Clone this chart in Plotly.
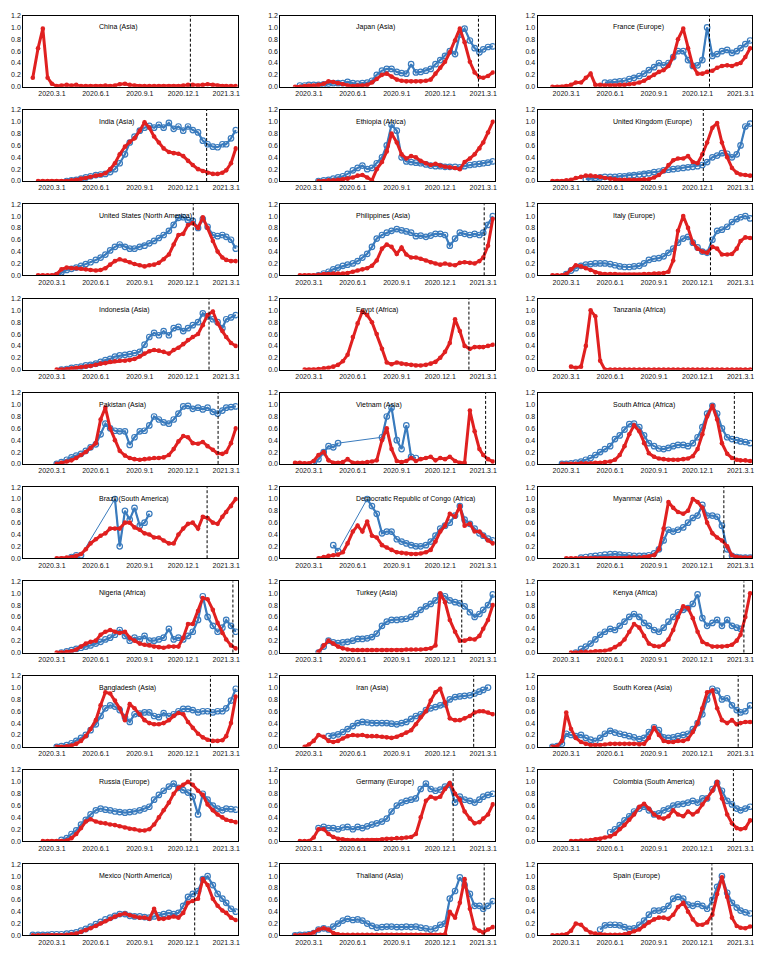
import plotly.graph_objects as go

N = None
MONTHS = [(2020, m) for m in range(1, 13)] + [(2021, m) for m in (1, 2, 3)]
DATES = [f"{y}-{m:02d}-{d:02d}" for (y, m) in MONTHS for d in (1, 11, 21)]

XTICK_VALS = ["2020-03-01", "2020-06-01", "2020-09-01", "2020-12-01", "2021-03-01"]
XTICK_TEXT = ["2020.3.1", "2020.6.1", "2020.9.1", "2020.12.1", "2021.3.1"]
YTICK_VALS = [0, 0.2, 0.4, 0.6, 0.8, 1.0, 1.2]
YTICK_TEXT = ["0.0", "0.2", "0.4", "0.6", "0.8", "1.0", "1.2"]

# ---- series (one value per 1st / 11th / 21st of each month, Jan 2020 .. Mar 2021) ----
china_red = [N, N, .15, .65, .98, .15, .05, .01, .02, .03, .02, .03, .01, .01, .01, .01, .01, .02, .01, .02, .04,
             .05, .03, .02, .01, .01, .01, .01, .01, .01, .01, .01, .01, .02, .03, .03, .02, .03, .04, .03, .02, .01,
             .01, .01, .01]
japan_red = [N, N, N, 0, 0, .01, .02, .02, .03, .05, .09, .08, .06, .04, .02, .01, .02, .02, .03, .07, .13,
             .20, .22, .17, .12, .10, .09, .09, .09, .09, .10, .12, .22, .32, .42, .58, .78, .98, .75, .42, .24, .16,
             .15, .18, .24]
japan_blue = [N, N, N, N, .02, .02, .03, .03, .03, .04, .05, .06, .06, .06, .08, .06, .05, .06, .07, .10, .20,
              .27, .30, .30, .25, .23, .22, .38, .24, .25, .27, .30, .38, .45, .52, .60, .55, .88, .98, .78, .65, .58,
              .63, .67, .68]
france_red = [N, N, N, 0, 0, 0, .01, .03, .07, .07, .15, .22, .03, .03, .02, .02, .02, .03, .03, .04, .05,
              .07, .10, .15, .20, .25, .28, .35, .50, .80, .98, .65, .35, .22, .22, .25, .27, .32, .35, .36, .35, .38,
              .40, .50, .65]
france_blue = [N, N, N, N, N, N, N, N, N, N, N, N, N, N, .07, .07, .08, .09, .10, .13, .15,
               .18, .22, .28, .33, .40, .36, .40, .50, .60, .60, .45, .35, .36, .45, 1.0, .52, .55, .60, .62, .57, .60,
               .65, .72, .78]
india_red = [N, N, N, 0, 0, 0, 0, 0, 0, 0, .01, .02, .04, .05, .07, .09, .10, .13, .20, .30, .45,
             .58, .66, .72, .85, .99, .90, .75, .65, .55, .49, .47, .46, .42, .34, .27, .20, .17, .14, .12, .12, .14,
             .18, .30, .55]
india_blue = [N, N, N, N, N, N, N, N, N, 0, .01, .02, .04, .06, .08, .10, .11, .12, .15, .20, .30,
              .45, .65, .75, .85, .90, .93, .90, .95, .90, .98, .88, .92, .85, .92, .86, .82, .68, .62, .58, .57, .62,
              .62, .72, .86]
ethiopia_red = [N, N, N, N, N, N, N, N, 0, 0, .01, .01, .02, .03, .04, .06, .09, .10, .06, .01, .20,
                .32, .50, .80, .65, .45, .38, .42, .40, .34, .30, .27, .29, .26, .24, .23, .22, .20, .32, .38, .45, .55,
                .65, .82, 1.0]
ethiopia_blue = [N, N, N, N, N, N, N, N, 0, .01, .02, .04, .06, .08, .12, .18, .22, .26, .20, .22, .30,
                 .40, .60, .95, .85, .40, .33, .32, .31, .30, .28, .26, .25, .25, .24, .24, .24, .23, .25, .27, .28,
                 .29, .30, .31, .33]
uk_red = [N, N, N, 0, 0, 0, .01, .02, .05, .07, .09, .09, .08, .07, .05, .04, .03, .02, .02, .02, .02,
          .02, .03, .03, .06, .10, .17, .27, .35, .38, .38, .42, .32, .30, .45, .65, .90, .98, .65, .40, .22, .14,
          .11, .10, .09]
uk_blue = [N, N, N, N, N, N, N, N, N, N, .03, .04, .05, .06, .07, .07, .07, .08, .08, .09, .10,
           .11, .12, .13, .15, .16, .18, .19, .20, .21, .22, .23, .24, .25, .27, .32, .40, .43, .47, .46, .40, .45,
           .60, .92, .97]
us_red = [N, N, N, 0, 0, 0, 0, .02, .10, .13, .12, .12, .11, .10, .09, .08, .09, .12, .18, .24, .27,
          .25, .22, .19, .17, .15, .17, .18, .21, .27, .35, .52, .68, .70, .85, .88, .80, .98, .80, .58, .40, .30,
          .26, .24, .24]
us_blue = [N, N, N, N, N, N, N, 0, .05, .09, .11, .13, .16, .19, .22, .26, .30, .35, .42, .48, .52,
           .48, .45, .45, .48, .50, .54, .58, .63, .68, .75, .85, .97, .98, .93, .92, .80, .95, .82, .68, .66, .68,
           .65, .60, .45]
phil_red = [N, N, N, N, 0, 0, 0, 0, .01, .02, .02, .03, .03, .03, .04, .06, .08, .10, .12, .16, .25,
            .45, .52, .48, .36, .47, .35, .30, .30, .28, .25, .22, .20, .18, .20, .18, .17, .21, .22, .21, .20, .24,
            .30, .50, .95]
phil_blue = [N, N, N, N, N, N, N, N, 0, .03, .06, .10, .13, .16, .18, .20, .24, .30, .36, .48, .62,
             .68, .72, .75, .78, .76, .74, .72, .66, .67, .65, .67, .70, .70, .68, .50, .62, .72, .70, .68, .70, .68,
             .72, .85, 1.0]
italy_red = [N, N, N, 0, 0, 0, .02, .10, .17, .15, .12, .09, .05, .03, .02, .02, .02, .01, .01, .01, .01,
             .01, .02, .02, .03, .03, .04, .06, .25, .75, 1.0, .80, .55, .45, .40, .38, .48, .45, .35, .35, .36, .45,
             .58, .64, .63]
italy_blue = [N, N, N, N, N, N, .02, .08, .12, .16, .18, .19, .20, .20, .20, .19, .17, .15, .14, .14, .15,
              .16, .20, .26, .28, .29, .32, .38, .45, .55, .62, .65, .55, .47, .40, .38, .60, .75, .77, .82, .90, .95,
              .98, 1.0, .96]
indo_red = [N, N, N, N, N, N, N, 0, 0, .01, .02, .03, .04, .05, .06, .08, .10, .11, .13, .14, .15,
            .15, .16, .18, .22, .27, .31, .33, .32, .30, .27, .33, .37, .43, .50, .55, .60, .75, .92, .98, .78, .65,
            .55, .45, .40]
indo_blue = [N, N, N, N, N, N, N, N, 0, .01, .03, .04, .05, .07, .08, .10, .13, .16, .18, .22, .24,
             .25, .26, .28, .30, .42, .55, .62, .58, .65, .58, .70, .72, .65, .70, .75, .80, .95, .90, .85, .80, .70,
             .85, .88, .92]
egypt_red = [N, N, N, N, N, 0, 0, 0, .01, .02, .03, .05, .08, .14, .25, .55, .78, .98, .92, .80, .60,
             .35, .12, .09, .12, .10, .09, .08, .07, .07, .08, .10, .13, .20, .30, .45, .85, .65, .40, .35, .38, .38,
             .38, .40, .42]
tanz_red = [N, N, N, N, N, N, N, .05, .03, .05, .40, 1.0, .90, .15, 0, 0, 0, 0, 0, 0, 0,
            0, 0, 0, 0, 0, 0, 0, 0, 0, 0, 0, 0, 0, 0, 0, 0, 0, 0, 0, 0, 0,
            0, 0, 0]
pak_red = [N, N, N, N, N, N, N, 0, .02, .04, .06, .10, .15, .20, .27, .35, .75, .95, .60, .40, .22,
           .14, .10, .08, .07, .08, .09, .10, .10, .11, .15, .25, .38, .47, .45, .35, .34, .37, .30, .24, .18, .17,
           .20, .35, .60]
pak_blue = [N, N, N, N, N, N, N, 0, .03, .07, .11, .14, .17, .22, .28, .33, .50, .68, .60, .56, .55,
            .55, .32, .45, .55, .56, .65, .80, .75, .70, .68, .75, .85, .97, .98, .93, .95, .92, .95, .88, .85, .90,
            .95, .96, .97]
viet_red = [N, N, N, .02, .02, .01, .01, .05, .15, .20, .06, .02, .02, .03, .08, .02, .02, .02, .03, .04, .06,
            .40, .60, .25, .05, .03, .05, .10, .05, .08, .10, .12, .06, .10, .08, .12, .05, .02, .02, .90, .55, .25,
            .15, .08, .04]
viet_blue = [N, N, N, N, N, N, N, 0, .08, .20, .30, .28, .35, N, N, N, N, N, N, N, N,
             .45, .80, .95, .40, .25, .65, .12, .10, N, N, N, N, N, N, N, N, N, N, N, N, N,
             N, N, N]
sa_red = [N, N, N, N, N, 0, 0, 0, 0, .01, .01, .01, .02, .02, .03, .04, .07, .15, .30, .50, .65,
          .55, .35, .18, .12, .09, .08, .07, .07, .07, .08, .09, .13, .25, .50, .80, .98, .75, .35, .17, .10, .07,
          .06, .06, .05]
sa_blue = [N, N, N, N, N, 0, 0, .01, .02, .04, .07, .10, .15, .20, .25, .30, .42, .48, .58, .67, .68,
           .62, .48, .35, .30, .26, .25, .27, .30, .32, .32, .30, .35, .45, .62, .85, .98, .85, .60, .45, .42, .40,
           .38, .37, .35]
brazil_red = [N, N, N, N, N, N, N, 0, 0, .01, .02, .04, .07, .15, .25, .32, .38, .42, .50, .50, .50,
              .60, .60, .52, .48, .42, .40, .35, .35, .30, .25, .25, .40, .50, .58, .60, .50, .70, .68, .60, .58, .70,
              .78, .88, 1.0]
brazil_blue = [N, N, N, N, N, N, N, N, N, N, .02, .05, .05, N, N, N, N, N, N, 1.0, .20,
               .80, .65, .85, .55, .60, .75, N, N, N, N, N, N, N, N, N, N, N, N, N, N, N,
               N, N, N]
drc_red = [N, N, N, N, N, N, N, N, 0, .02, .04, .05, .06, .10, .25, .45, .55, .45, .62, .38, .35,
           .22, .18, .14, .10, .09, .08, .07, .07, .08, .10, .14, .28, .45, .55, .75, .70, .88, .55, .58, .45, .45,
           .38, .30, .25]
drc_blue = [N, N, N, N, N, N, N, N, N, N, N, .22, .12, N, N, N, N, N, 1.0, .88, .75,
            .42, .45, .45, .32, .28, .25, .22, .20, .20, .22, .28, .38, .50, .55, .60, .72, .88, .65, .58, .50, .42,
            .38, .33, .30]
myanmar_red = [N, N, N, N, N, N, 0, 0, 0, 0, 0, 0, 0, 0, 0, 0, 0, 0, 0, .01, .01,
               .01, .02, .03, .05, .15, .50, .95, .85, .78, .75, .80, 1.0, .95, .85, .60, .42, .35, .30, .20, .05, .02,
               .01, .01, .01]
myanmar_blue = [N, N, N, N, N, N, N, N, N, .01, .02, .03, .04, .05, .06, .07, .07, .06, .05, .05, .04,
                .04, .04, .05, .08, .15, .30, .48, .45, .48, .52, .60, .68, .72, .90, .72, .72, .70, .55, .15, .04,
                .02, .01, .01, .01]
nigeria_red = [N, N, N, N, N, N, N, 0, 0, .01, .02, .05, .10, .15, .18, .20, .30, .35, .38, .35, .33,
               .35, .25, .20, .15, .13, .12, .10, .09, .08, .10, .10, .10, .25, .48, .48, .70, .92, .90, .72, .50, .33,
               .22, .12, .07]
nigeria_blue = [N, N, N, N, N, N, N, N, 0, .02, .04, .06, .08, .10, .12, .15, .18, .22, .25, .30, .38,
                .28, .20, .25, .22, .28, .20, .20, .22, .25, .40, .22, .25, .22, .28, .35, .55, .95, .60, .45, .35,
                .42, .55, .45, .35]
turkey_red = [N, N, N, N, N, N, N, N, .01, .12, .20, .15, .10, .07, .05, .04, .04, .04, .04, .04, .04,
              .04, .04, .04, .04, .04, .05, .05, .05, .05, .06, .07, .12, 1.0, .85, .55, .35, .20, .20, .23, .22, .28,
              .40, .55, .80]
turkey_blue = [N, N, N, N, N, N, N, N, 0, .10, .20, .17, .16, .17, .18, .20, .23, .23, .24, .26, .32,
               .45, .52, .55, .55, .56, .57, .60, .65, .72, .78, .82, .88, .97, .95, .88, .85, .83, .78, .68, .60, .65,
               .72, .80, .98]
kenya_red = [N, N, N, N, N, N, N, 0, 0, .01, .01, .01, .02, .02, .03, .05, .09, .14, .22, .35, .48,
             .42, .28, .15, .11, .10, .13, .22, .38, .60, .78, .75, .58, .35, .18, .14, .10, .10, .10, .11, .13, .20,
             .30, .60, 1.0]
kenya_blue = [N, N, N, N, N, N, N, N, 0, .06, .10, .15, .22, .30, .35, .40, .38, .45, .52, .60, .65,
              .60, .50, .45, .38, .35, .42, .52, .60, .68, .72, .75, .82, .98, .58, .45, .50, .55, .45, .55, .45, .42,
              .40, N, N]
bangla_red = [N, N, N, N, N, N, N, 0, 0, .01, .02, .05, .10, .18, .30, .45, .70, .92, .90, .78, .65,
              .45, .72, .65, .55, .45, .40, .38, .38, .40, .45, .52, .57, .55, .42, .32, .22, .16, .12, .10, .10, .11,
              .18, .40, .85]
bangla_blue = [N, N, N, N, N, N, N, 0, .01, .03, .06, .10, .15, .20, .28, .38, .52, .65, .70, .68, .62,
               .50, .42, .55, .56, .58, .58, .52, .50, .57, .52, .55, .60, .64, .64, .62, .58, .60, .60, .58, .60, .60,
               .65, .78, .98]
iran_red = [N, N, N, N, N, 0, .04, .10, .20, .17, .10, .08, .10, .14, .18, .20, .19, .20, .18, .18, .18,
            .17, .16, .15, .17, .20, .24, .28, .38, .50, .60, .78, .92, .98, .75, .48, .45, .45, .48, .52, .58, .60,
            .60, .58, .55]
iran_blue = [N, N, N, N, N, N, N, N, N, N, .18, .19, .21, .25, .30, .35, .40, .42, .41, .40, .40,
             .40, .40, .39, .38, .40, .42, .47, .52, .55, .62, .65, .67, .70, .72, .80, .84, .85, .86, .87, .90, .93,
             .96, 1.0, N]
sk_red = [N, N, N, 0, .01, .10, .58, .30, .15, .08, .05, .03, .03, .03, .04, .05, .05, .05, .05, .05, .05,
          .04, .05, .15, .32, .20, .10, .08, .08, .10, .10, .13, .25, .40, .65, .92, .95, .65, .45, .40, .45, .38,
          .40, .42, .42]
sk_blue = [N, N, N, 0, .01, .05, .22, .20, .18, .20, .15, .12, .10, .15, .22, .27, .24, .22, .20, .18, .16,
           .13, .15, .25, .33, .28, .16, .15, .16, .18, .20, .22, .30, .40, .55, .80, .98, .95, .80, .82, .70, .62,
           .58, .60, .70]
russia_red = [N, N, N, N, 0, 0, 0, 0, 0, .01, .05, .12, .22, .33, .37, .33, .31, .30, .28, .27, .25,
              .23, .21, .20, .18, .18, .20, .28, .40, .52, .65, .80, .90, .95, 1.0, .95, .85, .78, .62, .52, .45, .40,
              .36, .34, .32]
russia_blue = [N, N, N, N, N, N, N, N, .02, .05, .12, .18, .28, .36, .45, .52, .55, .53, .52, .50, .49,
               .48, .49, .50, .52, .55, .58, .70, .78, .85, .92, .97, .90, .86, .82, .75, .45, .80, .70, .60, .55, .52,
               .55, .54, .53]
germany_red = [N, N, N, N, 0, 0, 0, .06, .20, .20, .12, .07, .04, .03, .02, .02, .02, .02, .02, .02, .02,
               .03, .04, .04, .05, .05, .06, .07, .12, .40, .68, .75, .72, .75, .88, .98, .80, .70, .50, .38, .30, .32,
               .38, .45, .62]
germany_blue = [N, N, N, N, N, N, N, N, .22, .24, .22, .22, .20, .23, .24, .20, .24, .22, .25, .28, .30,
                .33, .38, .50, .60, .65, .68, .70, .72, .88, .97, .88, .85, .87, .92, .95, .65, .75, .70, .68, .65,
                .70, .75, .78, .80]
colombia_red = [N, N, N, N, N, N, N, 0, 0, .01, .01, .02, .03, .04, .06, .08, .12, .20, .27, .36, .45,
                .58, .63, .55, .45, .40, .38, .42, .52, .45, .42, .50, .45, .50, .62, .72, .85, 1.0, .72, .45, .30,
                .22, .20, .22, .35]
colombia_blue = [N, N, N, N, N, N, N, N, N, N, N, N, N, N, N, .15, .20, .27, .35, .42, .50,
                 .55, .58, .52, .45, .47, .52, .55, .60, .62, .63, .65, .68, .65, .72, .72, .88, .98, .85, .68, .62,
                 .55, .52, .55, .58]
mexico_red = [N, N, 0, 0, 0, 0, 0, 0, 0, .01, .02, .03, .06, .09, .12, .16, .20, .24, .28, .32, .35,
              .37, .34, .32, .30, .30, .28, .45, .28, .28, .30, .32, .30, .38, .55, .58, .62, .95, .85, .62, .50, .42,
              .38, .30, .26]
mexico_blue = [N, N, .01, .01, .01, .01, .02, .02, .02, .03, .04, .05, .08, .11, .15, .19, .23, .27, .30, .33,
               .36, .36, .33, .32, .32, .31, .30, .32, .34, .36, .38, .36, .38, .50, .65, .70, .75, .95, 1.0, .85, .70,
               .62, .55, .45, .40]
thai_red = [N, N, N, 0, 0, .01, .02, .05, .10, .12, .10, .04, .02, .01, .01, .01, .01, .01, .01, .01, .01,
            .01, .01, .01, .01, .01, .01, .01, .01, .01, .01, .01, .01, .01, .02, .40, .30, .55, .95, .45, .12, .08,
            .05, .10, .14]
thai_blue = [N, N, N, 0, .01, .01, .02, .04, .10, .12, .10, .15, .20, .25, .28, .26, .27, .25, .20, .16, .13,
             .14, .15, .15, .14, .14, .15, .14, .15, .13, .12, .10, .12, .18, .20, .62, .75, .98, .85, .70, .50, .50,
             .45, .50, .58]
spain_red = [N, N, N, 0, 0, .01, .02, .08, .20, .18, .10, .05, .03, .02, .01, .01, .01, .01, .02, .04, .07,
             .10, .16, .22, .27, .30, .30, .28, .35, .48, .55, .40, .27, .18, .18, .22, .35, .70, .98, .65, .30, .16,
             .13, .12, .15]
spain_blue = [N, N, N, N, N, N, N, N, N, N, N, N, N, .10, .17, .18, .18, .17, .14, .11, .12,
              .18, .25, .35, .42, .42, .44, .50, .62, .65, .62, .52, .50, .53, .50, .45, .60, .82, 1.0, .72, .55,
              .47, .42, .39, .37]

# panel title, red series, blue series, vertical reference date
PANELS = [
    ("China (Asia)", china_red, None, "2020-12-16"),
    ("Japan (Asia)", japan_red, japan_blue, "2021-02-19"),
    ("France (Europe)", france_red, france_blue, "2020-12-26"),
    ("India (Asia)", india_red, india_blue, "2021-01-19"),
    ("Ethiopia (Africa)", ethiopia_red, ethiopia_blue, None),
    ("United Kingdom (Europe)", uk_red, uk_blue, "2020-12-13"),
    ("United States (North America)", us_red, us_blue, "2020-12-22"),
    ("Philippines (Asia)", phil_red, phil_blue, "2021-03-03"),
    ("Italy (Europe)", italy_red, italy_blue, "2020-12-28"),
    ("Indonesia (Asia)", indo_red, indo_blue, "2021-01-24"),
    ("Egypt (Africa)", egypt_red, None, "2021-01-30"),
    ("Tanzania (Africa)", tanz_red, None, None),
    ("Pakistan (Asia)", pak_red, pak_blue, "2021-02-12"),
    ("Vietnam (Asia)", viet_red, viet_blue, "2021-03-06"),
    ("South Africa (Africa)", sa_red, sa_blue, "2021-02-16"),
    ("Brazil (South America)", brazil_red, brazil_blue, "2021-01-20"),
    ("Democratic Republic of Congo (Africa)", drc_red, drc_blue, None),
    ("Myanmar (Asia)", myanmar_red, myanmar_blue, "2021-01-25"),
    ("Nigeria (Africa)", nigeria_red, nigeria_blue, "2021-03-15"),
    ("Turkey (Asia)", turkey_red, turkey_blue, "2021-01-15"),
    ("Kenya (Africa)", kenya_red, kenya_blue, "2021-03-08"),
    ("Bangladesh (Asia)", bangla_red, bangla_blue, "2021-01-27"),
    ("Iran (Asia)", iran_red, iran_blue, "2021-02-09"),
    ("South Korea (Asia)", sk_red, sk_blue, "2021-02-24"),
    ("Russia (Europe)", russia_red, russia_blue, "2020-12-17"),
    ("Germany (Europe)", germany_red, germany_blue, "2020-12-28"),
    ("Colombia (South America)", colombia_red, colombia_blue, "2021-02-14"),
    ("Mexico (North America)", mexico_red, mexico_blue, "2020-12-25"),
    ("Thailand (Asia)", thai_red, thai_blue, "2021-03-03"),
    ("Spain (Europe)", spain_red, spain_blue, "2020-12-31"),
]

RED = "#e02020"
BLUE = "#3a7bbd"
FONT = "Liberation Sans, Arial, Helvetica, sans-serif"
W, H = 762, 954
COL_LEFT = [23.3, 281.0, 539.0]
PW = 215.0
ROW_TOP0 = 11.7
PH = 71.6
ROW_STEP = 95.0

fig = go.Figure()
layout = {}
annotations = []
shapes = []


def fit(vals):
    vals = list(vals)
    if len(vals) < len(DATES):
        vals = vals + [None] * (len(DATES) - len(vals))
    return vals[:len(DATES)]


def add_series(vals, xa, ya, color, thick, msym, msize, mline):
    ys = fit(vals)
    # thin connector (bridges gaps in the record, like the original)
    fig.add_trace(go.Scatter(
        x=DATES, y=ys, xaxis=xa, yaxis=ya, mode="lines", connectgaps=True,
        line=dict(color=color, width=1), showlegend=False, hoverinfo="skip"))
    # dense band of daily points
    fig.add_trace(go.Scatter(
        x=DATES, y=ys, xaxis=xa, yaxis=ya, mode="lines+markers", connectgaps=False,
        line=dict(color=color, width=thick),
        marker=dict(symbol=msym, size=msize, color=color, line=dict(width=mline, color=color)),
        showlegend=False, hoverinfo="skip"))


for i, (title, red, blue, vdate) in enumerate(PANELS):
    r, c = divmod(i, 3)
    n = i + 1
    xa = "x" if n == 1 else f"x{n}"
    ya = "y" if n == 1 else f"y{n}"
    xname = "xaxis" if n == 1 else f"xaxis{n}"
    yname = "yaxis" if n == 1 else f"yaxis{n}"
    left = COL_LEFT[c]
    top = ROW_TOP0 + r * ROW_STEP
    x0, x1 = left / W, (left + PW) / W
    y1, y0 = 1 - top / H, 1 - (top + PH) / H

    if blue is not None:
        add_series(blue, xa, ya, BLUE, 2.2, "circle-open", 5.5, 1.2)
    add_series(red, xa, ya, RED, 3.0, "circle", 4.6, 0)

    layout[xname] = dict(domain=[x0, x1], anchor=ya, type="date",
                         range=["2020-01-01", "2021-03-25"],
                         tickmode="array", tickvals=XTICK_VALS, ticktext=XTICK_TEXT,
                         showgrid=False, zeroline=False, showline=True, mirror=True,
                         linecolor="black", linewidth=1, ticks="",
                         tickfont=dict(family=FONT, size=7, color="#111"), fixedrange=True)
    layout[yname] = dict(domain=[y0, y1], anchor=xa, range=[0, 1.2],
                         tickmode="array", tickvals=YTICK_VALS, ticktext=YTICK_TEXT,
                         showgrid=False, zeroline=False, showline=True, mirror=True,
                         linecolor="black", linewidth=1, ticks="",
                         tickfont=dict(family=FONT, size=7, color="#111"), fixedrange=True)

    annotations.append(dict(text=title, xref=f"{xa} domain", yref=ya, x=0.343, y=1.0,
                            xanchor="left", yanchor="middle", showarrow=False,
                            font=dict(family=FONT, size=7, color="#000000")))
    if vdate:
        shapes.append(dict(type="line", xref=xa, yref=f"{ya} domain", x0=vdate, x1=vdate,
                           y0=0, y1=1, line=dict(color="black", width=1, dash="3px,2px")))

fig.update_layout(
    width=W, height=H, margin=dict(l=0, r=0, t=0, b=0),
    paper_bgcolor="white", plot_bgcolor="white",
    annotations=annotations, shapes=shapes, showlegend=False,
    **layout)

RESET = ("document.documentElement.style.margin='0';document.documentElement.style.padding='0';"
         "document.body.style.margin='0';document.body.style.padding='0';"
         "document.body.style.overflow='hidden';")
fig.write_html("out.html", post_script=RESET, config={"displayModeBar": False})
